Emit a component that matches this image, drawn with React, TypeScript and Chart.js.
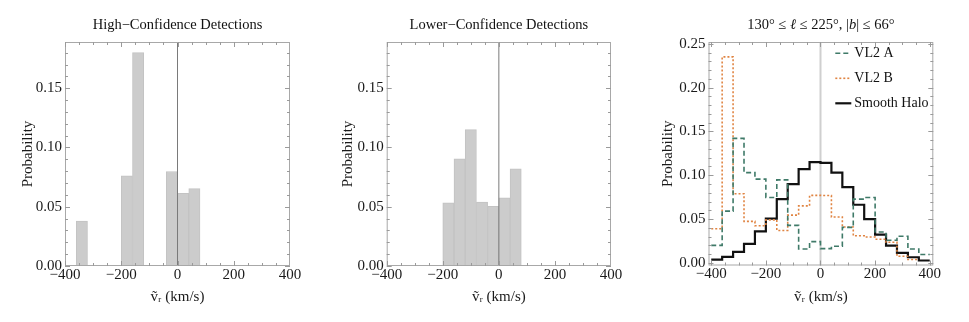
import React, { useEffect, useRef } from 'react';
import { Chart, registerables } from 'chart.js';

Chart.register(...registerables);

// ---------- data ----------
const HIGH_BIN_CENTERS = [-340, -180, -140, -20, 20, 60];
const HIGH_PROB = [0.038, 0.076, 0.180, 0.0797, 0.0613, 0.0653];

const LOWER_BIN_CENTERS = [-180, -140, -100, -60, -20, 20, 60];
const LOWER_PROB = [0.0534, 0.0904, 0.115, 0.054, 0.0503, 0.0576, 0.0819];

const HALO_BIN_EDGES = [-400, -360, -320, -280, -240, -200, -160, -120, -80, -40, 0, 40, 80, 120, 160, 200, 240, 280, 320, 360, 400];
const VL2_A = [0.020, 0.059, 0.142, 0.103, 0.0955, 0.0746, 0.0947, 0.0428, 0.0159, 0.0242, 0.0163, 0.019, 0.0405, 0.0727, 0.0746, 0.0352, 0.0258, 0.0303, 0.0159, 0.0095];
const VL2_B: (number | null)[] = [0.039, 0.235, 0.0788, 0.0473, 0.0424, 0.049, 0.037, 0.0545, 0.065, 0.077, 0.0769, 0.0523, 0.0409, 0.031, 0.0295, 0.027, 0.0235, 0.0076, 0.0038, null];
const SMOOTH_HALO = [0.0038, 0.0068, 0.0125, 0.0216, 0.036, 0.0504, 0.0727, 0.0898, 0.107, 0.115, 0.114, 0.103, 0.0864, 0.0663, 0.050, 0.0322, 0.0197, 0.0114, 0.0064, 0.0027];

const SERIES_LABELS = ['VL2 A', 'VL2 B', 'Smooth Halo'];

const X_TICKS = [-400, -200, 0, 200, 400];
const Y_TICKS_HIST = [0, 0.05, 0.1, 0.15];
const Y_TICKS_HALO = [0, 0.05, 0.1, 0.15, 0.2, 0.25];

const TITLE_HIGH = 'High\u2212Confidence Detections';
const TITLE_LOWER = 'Lower\u2212Confidence Detections';
const X_TITLE = '\u1E7D\u1D63 (km/s)';
const Y_TITLE = 'Probability';

// ---------- styling ----------
const FONT = '"Liberation Serif", "Times New Roman", "DejaVu Serif", serif';
const H = 322;

type Seg = { text: string; italic?: boolean };

const fmtX = (v: number) => (v < 0 ? '\u2212' + Math.abs(v) : String(v));
const fmtY = (v: number) => v.toFixed(2);

function decorPlugin(o: {
  title: Seg[];
  zeroColor: string;
  zeroWidth: number;
  zeroOnTop: boolean;
  legend?: boolean;
}) {
  const drawZero = (chart: any) => {
    const { ctx, chartArea } = chart;
    const x = chart.scales.x.getPixelForValue(0);
    ctx.save();
    ctx.strokeStyle = o.zeroColor;
    ctx.lineWidth = o.zeroWidth;
    ctx.beginPath();
    ctx.moveTo(x, chartArea.top);
    ctx.lineTo(x, chartArea.bottom);
    ctx.stroke();
    ctx.restore();
  };
  return {
    id: 'decor',
    beforeDatasetsDraw(chart: any) {
      if (!o.zeroOnTop) drawZero(chart);
    },
    afterDatasetsDraw(chart: any) {
      if (o.zeroOnTop) drawZero(chart);
      const { ctx, chartArea } = chart;
      const xs = chart.scales.x;
      const ys = chart.scales.y;
      const { left, right, top, bottom } = chartArea;
      ctx.save();
      // frame
      ctx.strokeStyle = '#a8a8a8';
      ctx.lineWidth = 1;
      ctx.strokeRect(left + 0.5, top + 0.5, right - left - 1, bottom - top - 1);
      // ticks (inward)
      ctx.strokeStyle = '#9a9a9a';
      ctx.beginPath();
      for (let v = -400; v <= 400; v += 50) {
        const px = Math.round(xs.getPixelForValue(v)) + 0.5;
        if (px < left || px > right) continue;
        const len = v % 200 === 0 ? 5 : 3;
        ctx.moveTo(px, bottom);
        ctx.lineTo(px, bottom - len);
        ctx.moveTo(px, top);
        ctx.lineTo(px, top + len);
      }
      for (let i = 0; i <= 30; i++) {
        const v = i / 100;
        if (v > ys.max) break;
        const py = Math.round(ys.getPixelForValue(v)) + 0.5;
        const len = i % 5 === 0 ? 5 : 3;
        ctx.moveTo(left, py);
        ctx.lineTo(left + len, py);
        ctx.moveTo(right, py);
        ctx.lineTo(right - len, py);
      }
      ctx.stroke();

      // title
      const size = 14.5;
      const fontFor = (s: Seg) => `${s.italic ? 'italic ' : ''}${size}px ${FONT}`;
      let total = 0;
      for (const s of o.title) {
        ctx.font = fontFor(s);
        total += ctx.measureText(s.text).width;
      }
      let x = (left + right) / 2 - total / 2;
      ctx.fillStyle = '#111';
      ctx.textBaseline = 'middle';
      ctx.textAlign = 'left';
      for (const s of o.title) {
        ctx.font = fontFor(s);
        ctx.fillText(s.text, x, 25);
        x += ctx.measureText(s.text).width;
      }

      // legend
      if (o.legend) {
        const ys0 = [53.3, 78.3, 103.3];
        chart.data.datasets.forEach((ds: any, i: number) => {
          const y = ys0[i];
          const sx = right - 98;
          ctx.strokeStyle = ds.borderColor;
          ctx.lineWidth = ds.borderWidth;
          ctx.setLineDash(ds.borderDash || []);
          ctx.beginPath();
          ctx.moveTo(sx, y);
          ctx.lineTo(sx + 16, y);
          ctx.stroke();
          ctx.setLineDash([]);
          ctx.font = `14px ${FONT}`;
          ctx.fillStyle = '#111';
          ctx.fillText(ds.label, sx + 19, y);
        });
      }
      ctx.restore();
    },
  };
}

function baseOptions(area: { left: number; right: number; top: number; bottom: number; width: number },
  xr: [number, number], yr: [number, number], yTicks: number[]) {
  const tickFont = { family: FONT, size: 15 };
  return {
    responsive: false,
    animation: false,
    devicePixelRatio: 1,
    events: [],
    layout: { padding: { left: 0, top: area.top, right: area.width - area.right, bottom: 0 } },
    plugins: { legend: { display: false }, title: { display: false }, tooltip: { enabled: false } },
    scales: {
      x: {
        type: 'linear',
        offset: false,
        min: xr[0],
        max: xr[1],
        grid: { display: false, drawTicks: false },
        border: { display: false },
        afterBuildTicks: (s: any) => { s.ticks = X_TICKS.map((v) => ({ value: v })); },
        afterFit: (s: any) => { s.height = H - area.bottom; },
        ticks: { font: tickFont, color: '#1a1a1a', padding: 0, autoSkip: false, maxRotation: 0, callback: (v: any) => fmtX(Number(v)) },
        title: { display: true, text: X_TITLE, font: { family: FONT, size: 15 }, color: '#1a1a1a', padding: { top: 0, bottom: 16 } },
      },
      y: {
        type: 'linear',
        min: yr[0],
        max: yr[1],
        grid: { display: false, drawTicks: false },
        border: { display: false },
        afterBuildTicks: (s: any) => { s.ticks = yTicks.map((v) => ({ value: v })); },
        afterFit: (s: any) => { s.width = area.left; },
        ticks: { font: tickFont, color: '#1a1a1a', padding: 3, autoSkip: false, callback: (v: any) => fmtY(Number(v)) },
        title: { display: true, text: Y_TITLE, font: { family: FONT, size: 15 }, color: '#1a1a1a', padding: { top: 19, bottom: 0 } },
      },
    },
  };
}

function histConfig(title: string, centers: number[], probs: number[], area: any) {
  return {
    type: 'bar',
    data: {
      datasets: [{
        data: centers.map((x, i) => ({ x, y: probs[i] })),
        backgroundColor: '#cccccc',
        borderColor: '#c3c3c3',
        borderWidth: 1,
        borderSkipped: 'start',
        categoryPercentage: 1,
        barPercentage: 1,
      }],
    },
    options: baseOptions(area, [-400, 400], [0, 0.189], Y_TICKS_HIST),
    plugins: [decorPlugin({ title: [{ text: title }], zeroColor: '#7a7a7a', zeroWidth: 1, zeroOnTop: true })],
  };
}

function stepPoints(values: (number | null)[]) {
  let last = values.length - 1;
  while (last >= 0 && values[last] == null) last--;
  const pts = values.slice(0, last + 1).map((v, i) => ({ x: HALO_BIN_EDGES[i], y: v }));
  pts.push({ x: HALO_BIN_EDGES[last + 1], y: values[last] });
  return pts;
}

function haloConfig(area: any) {
  const common = { stepped: true, pointRadius: 0, fill: false, tension: 0 };
  return {
    type: 'line',
    data: {
      datasets: [
        { ...common, label: SERIES_LABELS[0], data: stepPoints(VL2_A), borderColor: '#3f7a68', borderWidth: 1.6, borderDash: [5, 3] },
        { ...common, label: SERIES_LABELS[1], data: stepPoints(VL2_B), borderColor: '#e08442', borderWidth: 1.6, borderDash: [2, 2] },
        { ...common, label: SERIES_LABELS[2], data: stepPoints(SMOOTH_HALO), borderColor: '#111111', borderWidth: 2.2 },
      ],
    },
    options: baseOptions(area, [-410, 413], [-0.003, 0.252], Y_TICKS_HALO),
    plugins: [decorPlugin({
      title: [
        { text: '130\u00B0 \u2264 ' }, { text: '\u2113', italic: true }, { text: ' \u2264 225\u00B0, |' },
        { text: 'b', italic: true }, { text: '| \u2264 66\u00B0' },
      ],
      zeroColor: '#cfcfcf', zeroWidth: 2, zeroOnTop: false, legend: true,
    })],
  };
}

function Panel({ left, width, make }: { left: number; width: number; make: () => any }) {
  const ref = useRef<HTMLCanvasElement>(null);
  useEffect(() => {
    const chart = new Chart(ref.current as HTMLCanvasElement, make());
    return () => chart.destroy();
  }, []);
  return (
    <canvas
      ref={ref}
      width={width}
      height={H}
      style={{ position: 'absolute', left, top: 0, width, height: H }}
    />
  );
}

export default function App() {
  const a1 = { left: 65, right: 290, top: 42, bottom: 266, width: 320 };
  const a2 = { left: 66.7, right: 291, top: 42, bottom: 266, width: 320 };
  const a3 = { left: 68.5, right: 293.3, top: 42, bottom: 265.5, width: 329 };
  return (
    <div style={{ position: 'absolute', left: 0, top: 0, width: 969, height: H, background: '#fff' }}>
      <Panel left={0} width={320} make={() => histConfig(TITLE_HIGH, HIGH_BIN_CENTERS, HIGH_PROB, a1)} />
      <Panel left={320} width={320} make={() => histConfig(TITLE_LOWER, LOWER_BIN_CENTERS, LOWER_PROB, a2)} />
      <Panel left={640} width={329} make={() => haloConfig(a3)} />
    </div>
  );
}
